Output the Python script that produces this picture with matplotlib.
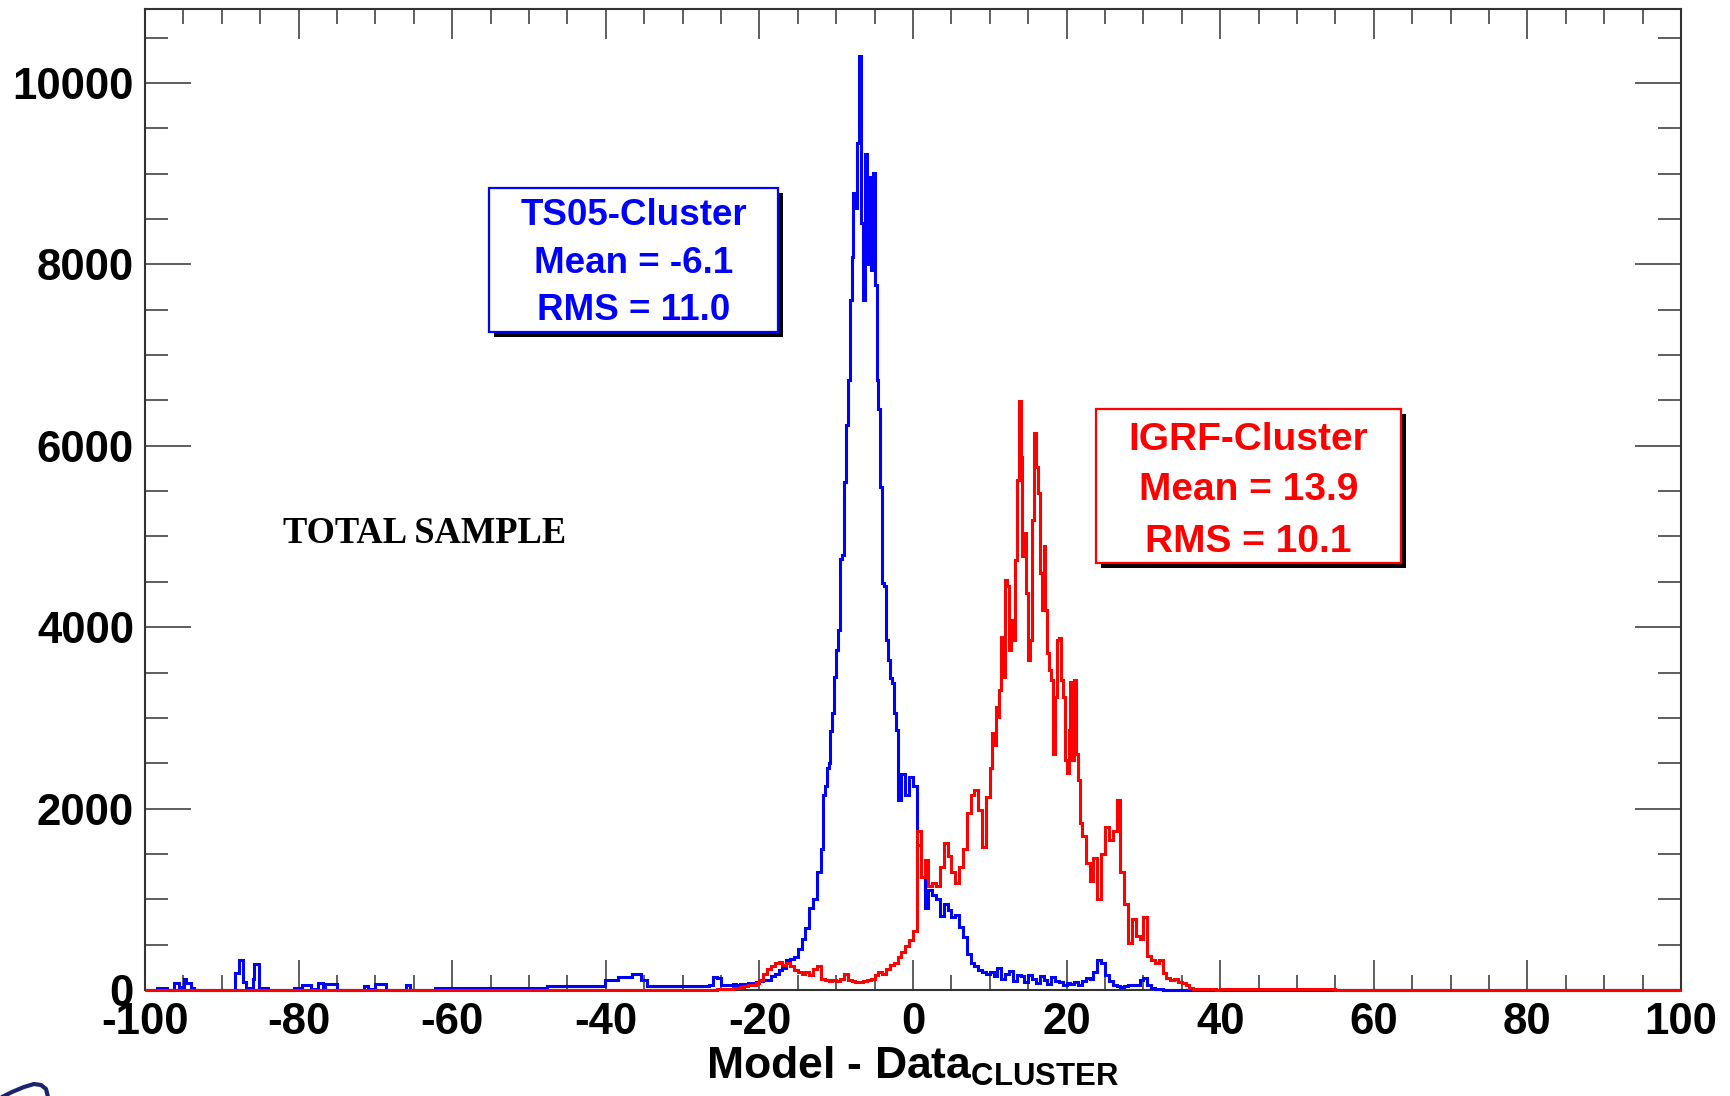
import matplotlib
matplotlib.use("Agg")
import matplotlib.pyplot as plt
import numpy as np
from matplotlib.patches import Rectangle
from matplotlib.lines import Line2D

plt.rcParams['font.family'] = ['Liberation Sans', 'DejaVu Sans']
plt.rcParams['font.weight'] = 'bold'
plt.rcParams['axes.unicode_minus'] = False
plt.rcParams['mathtext.fontset'] = 'custom'
plt.rcParams['mathtext.bf'] = 'Liberation Sans:bold'
plt.rcParams['mathtext.rm'] = 'Liberation Sans:bold'

# ---- data: histogram counts ----
# TS05 - Cluster (blue): sparse tail -100..-30 with uneven bins
blue_tail_edges = [-100, -98.5, -97.2, -96.2, -95.6, -94.9, -94.6, -94.0, -93.6, -88.3,
                   -87.8, -87.3, -86.9, -86.0, -85.8, -85.2, -84.0, -80.6, -79.6, -78.4,
                   -77.5, -76.8, -76.5, -75.0, -71.5, -71.0, -70.0, -68.6, -66.0, -65.5,
                   -62.2, -47.7, -40.1, -38.4, -36.6, -35.4, -34.6, -30.0]
blue_tail = [0, 25, 0, 75, 30, 120, 75, 25, 0, 185,
             330, 90, 25, 120, 285, 25, 0, 25, 55, 15,
             75, 20, 65, 0, 40, 10, 65, 5, 55, 5,
             20, 40, 110, 140, 180, 110, 40]
# -30 .. -12, bins of 0.5
blue_a = [40, 45, 40, 45, 40, 40, 45, 60, 140, 130, 60, 55,
          60, 70, 60, 65, 70, 75, 75, 90, 100, 105, 115, 150,
          180, 220, 240, 330, 340, 360, 450, 560, 680, 900, 1000, 1300]
# -12 .. -2, bins of 0.25
blue_b = [1550, 2150, 2250, 2450, 2500, 2850, 3050, 3450, 3750, 3970,
          4750, 4800, 5600, 6230, 6730, 7610, 8085, 8790, 8625, 9340,
          10300, 8460, 7610, 9220, 8000, 8960, 7940, 9010, 7775, 6730,
          6400, 5550, 4490, 4450, 3860, 3640, 3440, 3385, 3050, 2870]
# -2 .. 40, bins of 0.5
blue_c = [2100, 2380, 2150, 2350, 2250, 1600, 1250, 900, 1100, 1050,
          1000, 820, 950, 880, 800, 830, 700, 580, 400, 300,
          260, 220, 200, 180, 200, 150, 240, 120, 180, 210,
          100, 170, 150, 90, 160, 120, 80, 150, 110, 70,
          140, 100, 90, 60, 80, 70, 90, 60, 100, 130,
          120, 200, 330, 300, 160, 100, 60, 40, 30, 40,
          50, 60, 50, 110, 130, 60, 20, 15, 10, 5,
          0, 0, 0, 0, 0, 0, 0, 0, 0, 0, 0, 0, 0, 0]
blue_end = [0]  # 40 .. 100

# IGRF - Cluster (red)
red_start = [0]  # -100 .. -26
# -26 .. 0, bins of 0.5
red_a = [5, 8, 10, 12, 15, 20, 25, 30, 40, 50, 60, 80, 110,
         180, 230, 270, 300, 310, 280, 300, 260, 220, 200, 180, 200, 170,
         230, 270, 120, 110, 100, 110, 100, 120, 180, 110, 100, 90, 85,
         95, 110, 120, 160, 200, 180, 230, 280, 300, 360, 420, 480, 550]
# 0 .. 10, bins of 0.5
red_b = [650, 1750, 1250, 1430, 1150, 1180, 1150, 1360, 1620, 1480,
         1300, 1180, 1360, 1550, 1950, 2150, 2205, 1985, 1580, 2130]
# 10 .. 22, bins of 0.25
red_c = [2450, 2835, 2700, 3125, 3010, 3310, 3895, 3450, 4520, 4450,
         3750, 4080, 3860, 4740, 5625, 6490, 5880, 4780, 5040, 4380,
         3640, 3860, 5185, 6145, 5770, 5480, 4600, 4190, 4890, 4190,
         3715, 3530, 3420, 2600, 3230, 3860, 3880, 3420, 3230, 2535,
         2390, 2870, 3400, 2535, 3420, 2600, 2315, 1840]
# 22 .. 40, bins of 0.5
red_d = [1700, 1400, 1200, 1450, 1000, 1500, 1800, 1650, 1750, 2100,
         1300, 950, 520, 780, 600, 560, 800, 370, 330, 300,
         330, 190, 130, 110, 120, 90, 75, 50, 20, 15,
         10, 8, 10, 6, 8, 5]
red_tail_edges = [40, 45, 50, 55, 58, 100]
red_tail = [8, 10, 8, 5, 0]

blue_edges = np.concatenate([blue_tail_edges[:-1], np.arange(-30, -12, 0.5),
                             np.arange(-12, -2, 0.25), np.arange(-2, 40, 0.5), [40, 100]])
blue_vals = np.array(blue_tail + blue_a + blue_b + blue_c + blue_end, dtype=float)

red_edges = np.concatenate([[-100], np.arange(-26, 0, 0.5), np.arange(0, 10, 0.5),
                            np.arange(10, 22, 0.25), np.arange(22, 40, 0.5), red_tail_edges])
red_vals = np.array(red_start + red_a + red_b + red_c + red_d + red_tail, dtype=float)

W, H = 1731, 1096
fig = plt.figure(figsize=(W / 100, H / 100), dpi=100)
ax = fig.add_axes([145 / W, 1 - 990 / H, (1681 - 145) / W, (990 - 9) / H])

ax.stairs(blue_vals, blue_edges, color='#0000ff', lw=2.2, clip_on=False, zorder=3)
ax.stairs(red_vals, red_edges, color='#ff0000', lw=2.2, clip_on=False, zorder=4)

ax.set_xlim(-100, 100)
ax.set_ylim(0, 10815)
ax.set_xticks(np.arange(-100, 101, 20))
ax.set_xticks(np.arange(-100, 101, 5), minor=True)
ax.set_yticks(np.arange(0, 10001, 2000))
ax.set_yticks(np.arange(0, 10801, 500), minor=True)

for s in ax.spines.values():
    s.set_linewidth(1.5)
    s.set_color('#333333')
ax.tick_params(axis='both', which='both', direction='in', top=True, right=True,
               width=1.1, color='#333333', labelsize=31.5)
ax.tick_params(axis='x', which='major', length=21.5, pad=9)
ax.tick_params(axis='x', which='minor', length=10.8)
ax.tick_params(axis='y', which='major', length=33, pad=8)
ax.tick_params(axis='y', which='minor', length=16.5)
for lab in ax.get_xticklabels() + ax.get_yticklabels():
    lab.set_fontweight('bold')

fig.text(913 / W, 1 - 1079 / H, r'Model - Data$_{\mathbf{CLUSTER}}$', fontsize=32,
         fontweight='bold', ha='center', va='baseline')

fig.text(283 / W, 1 - 543 / H, 'TOTAL SAMPLE', fontsize=26.3, fontweight='bold',
         family=['Liberation Serif', 'DejaVu Serif'], ha='left', va='baseline')


def stat_box(x0, y0, x1, y1, color, lines, baselines, size):
    # shadow then white box with coloured border, pixel coords from top-left
    fig.add_artist(Rectangle((x0 / W + 5 / W, 1 - (y1 + 5) / H), (x1 - x0) / W, (y1 - y0) / H,
                             transform=fig.transFigure, facecolor='black', edgecolor='none', zorder=5))
    fig.add_artist(Rectangle((x0 / W, 1 - y1 / H), (x1 - x0) / W, (y1 - y0) / H,
                             transform=fig.transFigure, facecolor='white', edgecolor=color,
                             lw=1.6, zorder=6))
    cx = (x0 + x1) / 2
    for t, b in zip(lines, baselines):
        fig.text(cx / W, 1 - b / H, t, color=color, fontsize=size, fontweight='bold',
                 ha='center', va='baseline', zorder=7)


stat_box(489, 188, 778, 332, '#0000ff', ['TS05-Cluster', 'Mean = -6.1', 'RMS = 11.0'],
         [225, 273, 320], 26.5)
stat_box(1096, 409, 1401, 563, '#ff0000', ['IGRF-Cluster', 'Mean = 13.9', 'RMS = 10.1'],
         [450, 500, 552], 28)

# bit of a logo cut off in the bottom-left corner
logo_x = np.array([2, 12, 24, 34, 41, 46, 48])
logo_y = np.array([1097, 1092, 1087, 1084, 1085, 1089, 1097])
fig.add_artist(Line2D(logo_x / W, 1 - logo_y / H, transform=fig.transFigure,
                      color='#1c2370', lw=3, solid_capstyle='round'))

fig.savefig('out.png', dpi=100)
